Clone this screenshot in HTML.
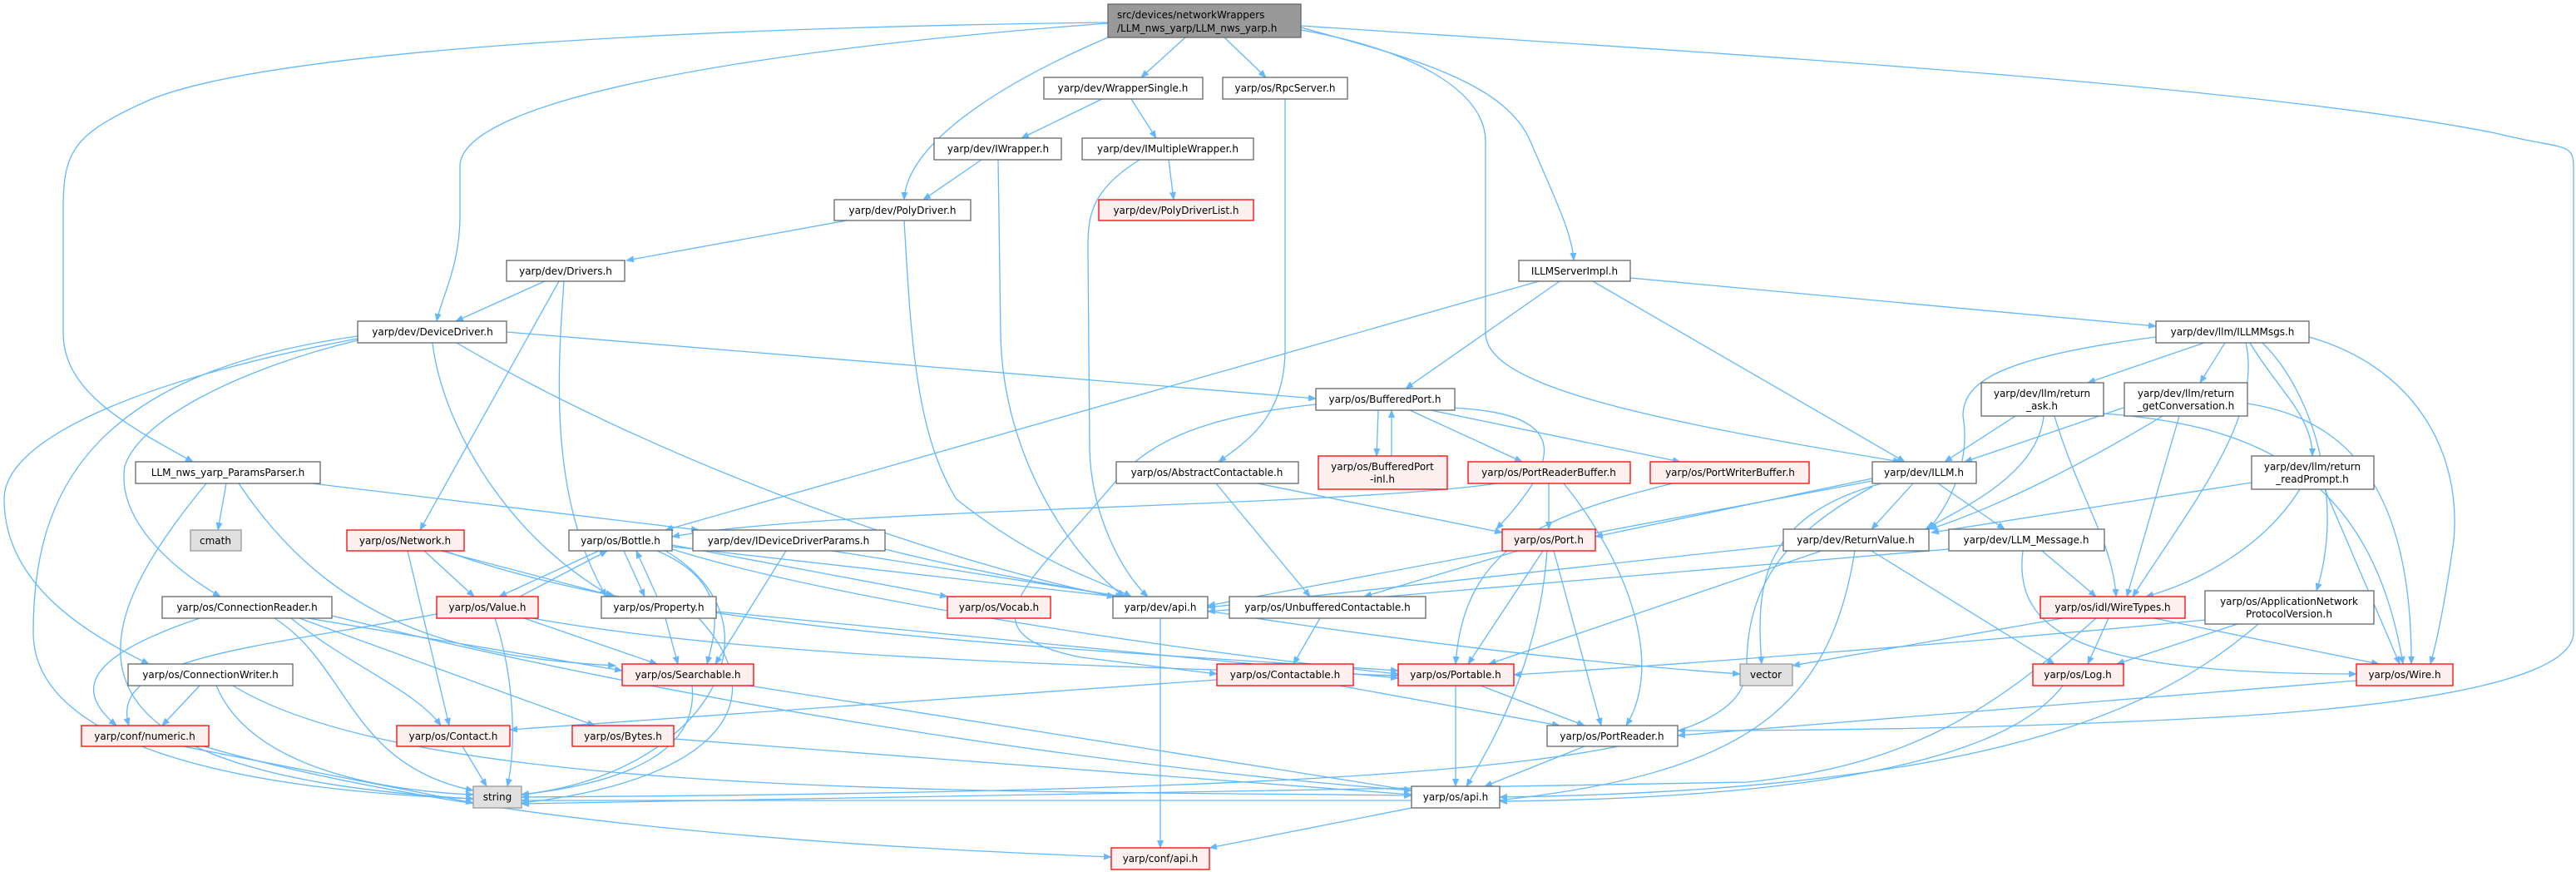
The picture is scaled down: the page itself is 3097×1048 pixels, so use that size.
<!DOCTYPE html>
<html><head><meta charset="utf-8"><style>
html,body{margin:0;padding:0;background:#fff;}
svg{display:block;}
text{font-family:"DejaVu Sans","Liberation Sans",sans-serif;font-size:12px;fill:#000;}
.e{fill:none;stroke:#63b8ff;stroke-width:1.3;marker-end:url(#a);}
.n{fill:#fff;stroke:#666;stroke-width:1.3;}
.r{fill:#fff0f0;stroke:#ff0000;stroke-width:1.3;}
.g{fill:#e0e0e0;stroke:#999;stroke-width:1.3;}
</style></head><body>
<svg width="3097" height="1048" viewBox="0 0 3097 1048" xmlns="http://www.w3.org/2000/svg">
<defs><marker id="a" markerWidth="10" markerHeight="8" refX="9" refY="4" orient="auto" markerUnits="userSpaceOnUse"><path d="M0,0 L10,4 L0,8 z" fill="#63b8ff"/></marker></defs>
<g>
<path class="e" d="M1425,45 L1372,93"/>
<path class="e" d="M1472,45 L1522,93"/>
<path class="e" d="M1332,45 C1180,110 1090,180 1087,240"/>
<path class="e" d="M1332,28 C900,60 553,120 553,200 L553,260 C553,320 530,360 525,386"/>
<path class="e" d="M1332,27 C700,35 300,70 180,120 C90,160 76,180 76,250 L76,400 C76,470 150,510 232,555"/>
<path class="e" d="M1564,33 C1700,70 1810,100 1840,170 C1870,240 1890,280 1892,313"/>
<path class="e" d="M1564,36 C1700,60 1786,110 1786,170 L1786,400 C1786,460 1950,500 2285,555"/>
<path class="e" d="M1564,31 C2000,60 2700,100 3000,160 C3080,180 3094,170 3094,200 L3094,760 C3094,800 3000,840 2700,860 C2400,878 2100,878 2017,878"/>
<path class="e" d="M1325,119 L1228,166"/>
<path class="e" d="M1360,119 L1390,166"/>
<path class="e" d="M1180,192 L1110,240"/>
<path class="e" d="M1200,192 L1203,400 C1205,560 1300,680 1352,717"/>
<path class="e" d="M1405,192 L1411,240"/>
<path class="e" d="M1370,192 C1310,230 1308,260 1308,300 L1310,540 C1312,620 1350,690 1380,717"/>
<path class="e" d="M1018,265 L753,313"/>
<path class="e" d="M1087,265 C1095,400 1100,520 1150,600 C1250,680 1330,700 1360,717"/>
<path class="e" d="M1545,119 L1545,420 C1545,500 1500,530 1465,555"/>
<path class="e" d="M655,338 L548,386"/>
<path class="e" d="M672,338 L505,637"/>
<path class="e" d="M678,338 C670,450 660,600 729,717"/>
<path class="e" d="M609,399 L1582,479"/>
<path class="e" d="M430,409 C300,440 170,500 150,560 C140,620 200,680 265,717"/>
<path class="e" d="M430,407 C200,450 5,520 5,600 C5,700 100,760 179,798"/>
<path class="e" d="M520,412 C530,500 600,640 736,717"/>
<path class="e" d="M549,412 C800,560 1150,680 1340,717"/>
<path class="e" d="M430,404 C100,450 40,600 40,760 C40,900 300,950 569,960"/>
<path class="e" d="M1960,334 L2592,392"/>
<path class="e" d="M1875,338 L1690,467"/>
<path class="e" d="M1915,338 L2290,555"/>
<path class="e" d="M1850,338 L800,637"/>
<path class="e" d="M1657,493 L1655,548"/>
<path class="e" d="M1673,548 L1673,493"/>
<path class="e" d="M1695,493 L1830,555"/>
<path class="e" d="M1720,493 L2020,555"/>
<path class="e" d="M1740,490 C1900,495 1870,560 1799,636"/>
<path class="e" d="M1582,486 C1450,500 1380,530 1340,580 C1240,700 1150,760 1300,790 L1463,810"/>
<path class="e" d="M1462,581 L1575,717"/>
<path class="e" d="M1512,581 L1806,640"/>
<path class="e" d="M1862,581 L1862,636"/>
<path class="e" d="M1880,581 C1960,680 2000,800 1955,872"/>
<path class="e" d="M1800,581 C1600,610 1000,610 808,645"/>
<path class="e" d="M2011,581 C1850,620 1760,660 1750,798"/>
<path class="e" d="M1825,662 L1640,717"/>
<path class="e" d="M1855,662 L1765,798"/>
<path class="e" d="M1868,662 L1925,872"/>
<path class="e" d="M1860,662 C1850,800 1790,900 1763,945"/>
<path class="e" d="M1587,743 L1555,798"/>
<path class="e" d="M1610,824 L1875,872"/>
<path class="e" d="M1463,817 L613,877"/>
<path class="e" d="M1750,824 L1750,945"/>
<path class="e" d="M1780,824 L1905,872"/>
<path class="e" d="M1905,897 L1785,945"/>
<path class="e" d="M1697,971 L1454,1019"/>
<path class="e" d="M1395,743 L1395,1019"/>
<path class="e" d="M2650,412 L2510,460"/>
<path class="e" d="M2675,412 L2645,460"/>
<path class="e" d="M2705,412 C2740,470 2780,500 2780,548"/>
<path class="e" d="M2592,405 C2400,430 2360,460 2360,500 C2370,560 2340,610 2319,636"/>
<path class="e" d="M2700,412 C2720,500 2640,600 2564,717"/>
<path class="e" d="M2720,412 C2780,470 2820,600 2785,710"/>
<path class="e" d="M2776,405 C2900,440 2960,540 2950,650 C2940,720 2930,770 2922,798"/>
<path class="e" d="M2423,500 L2338,555"/>
<path class="e" d="M2553,490 L2362,555"/>
<path class="e" d="M2457,500 C2450,570 2360,610 2315,636"/>
<path class="e" d="M2470,500 C2500,600 2540,650 2544,717"/>
<path class="e" d="M2529,497 C2700,510 2850,560 2889,798"/>
<path class="e" d="M2600,500 C2500,560 2400,610 2320,636"/>
<path class="e" d="M2620,500 L2557,717"/>
<path class="e" d="M2702,485 C2800,500 2900,560 2899,798"/>
<path class="e" d="M2707,580 L2322,640"/>
<path class="e" d="M2765,588 C2720,660 2640,700 2580,717"/>
<path class="e" d="M2795,588 L2885,798"/>
<path class="e" d="M2300,581 L2250,636"/>
<path class="e" d="M2330,581 L2410,636"/>
<path class="e" d="M2262,581 C2120,620 2110,700 2118,798"/>
<path class="e" d="M2251,585 C2150,640 2100,700 2100,800 C2100,900 1900,950 627,958"/>
<path class="e" d="M2251,578 L1452,728"/>
<path class="e" d="M2251,575 L1918,645"/>
<path class="e" d="M2144,655 L1452,730"/>
<path class="e" d="M2250,662 L2470,798"/>
<path class="e" d="M2230,662 C2200,850 2100,930 1800,962 L627,962"/>
<path class="e" d="M2190,662 L1790,798"/>
<path class="e" d="M2455,662 L2520,717"/>
<path class="e" d="M2432,662 C2420,760 2500,810 2833,810"/>
<path class="e" d="M2343,660 L1452,735"/>
<path class="e" d="M2480,743 L2155,800"/>
<path class="e" d="M2535,743 L2510,798"/>
<path class="e" d="M2590,743 L2860,798"/>
<path class="e" d="M2520,743 C2400,850 2300,920 2100,940 L627,966"/>
<path class="e" d="M2651,745 C2400,770 2000,800 1820,811"/>
<path class="e" d="M2690,750 L2545,798"/>
<path class="e" d="M2715,750 C2600,850 2400,950 1803,958"/>
<path class="e" d="M2480,824 C2400,930 2100,960 1803,963"/>
<path class="e" d="M2833,818 L2017,884"/>
<path class="e" d="M510,662 L570,717"/>
<path class="e" d="M530,662 L740,717"/>
<path class="e" d="M490,662 L540,872"/>
<path class="e" d="M535,662 C800,760 1300,780 1681,806"/>
<path class="e" d="M720,662 L600,717"/>
<path class="e" d="M625,717 L730,662"/>
<path class="e" d="M750,662 L775,717"/>
<path class="e" d="M790,717 L765,662"/>
<path class="e" d="M790,662 C880,700 860,760 850,798"/>
<path class="e" d="M800,662 C950,750 850,930 627,955"/>
<path class="e" d="M808,655 L1139,717"/>
<path class="e" d="M808,660 C1000,720 1400,780 1681,810"/>
<path class="e" d="M808,657 L1340,717"/>
<path class="e" d="M630,743 L790,798"/>
<path class="e" d="M595,743 C620,820 620,900 610,945"/>
<path class="e" d="M525,738 C300,780 130,790 155,872"/>
<path class="e" d="M640,743 C900,790 1300,800 1681,812"/>
<path class="e" d="M800,743 L815,798"/>
<path class="e" d="M840,743 C940,850 850,940 627,965"/>
<path class="e" d="M861,735 L1681,815"/>
<path class="e" d="M945,662 L860,798"/>
<path class="e" d="M1000,662 L1350,717"/>
<path class="e" d="M1064,660 C1300,720 1800,790 2092,810"/>
<path class="e" d="M370,743 L748,806"/>
<path class="e" d="M330,743 C420,800 420,920 569,950"/>
<path class="e" d="M350,743 C420,800 500,830 530,872"/>
<path class="e" d="M360,743 L715,872"/>
<path class="e" d="M240,743 C100,790 90,830 140,872"/>
<path class="e" d="M399,740 C800,840 1300,920 1697,950"/>
<path class="e" d="M240,824 L195,872"/>
<path class="e" d="M260,824 C300,920 450,950 569,955"/>
<path class="e" d="M280,824 C500,960 1200,950 1697,956"/>
<path class="e" d="M832,824 C840,900 760,940 627,955"/>
<path class="e" d="M900,824 L1697,950"/>
<path class="e" d="M220,897 L569,965"/>
<path class="e" d="M245,897 C600,1000 1100,1020 1336,1030"/>
<path class="e" d="M556,897 L585,945"/>
<path class="e" d="M810,888 L1697,955"/>
<path class="e" d="M272,581 L262,637"/>
<path class="e" d="M248,581 C100,760 40,930 569,960"/>
<path class="e" d="M287,581 C400,750 550,790 740,800"/>
<path class="e" d="M375,581 L840,637"/>
</g>
<g>
<rect x="1332" y="5" width="232" height="40" fill="#999" stroke="#666" stroke-width="1.3"/>
<text x="1343" y="22">src/devices/networkWrappers</text>
<text x="1343" y="38">/LLM_nws_yarp/LLM_nws_yarp.h</text>

<rect class="n" x="1255" y="93" width="191" height="26"/><text x="1350" y="110" text-anchor="middle">yarp/dev/WrapperSingle.h</text>
<rect class="n" x="1470" y="93" width="150" height="26"/><text x="1545" y="110" text-anchor="middle">yarp/os/RpcServer.h</text>
<rect class="n" x="1123" y="166" width="153" height="26"/><text x="1200" y="183" text-anchor="middle">yarp/dev/IWrapper.h</text>
<rect class="n" x="1301" y="166" width="206" height="26"/><text x="1404" y="183" text-anchor="middle">yarp/dev/IMultipleWrapper.h</text>
<rect class="n" x="1003" y="240" width="164" height="25"/><text x="1085" y="257" text-anchor="middle">yarp/dev/PolyDriver.h</text>
<rect class="r" x="1321" y="240" width="186" height="25"/><text x="1414" y="257" text-anchor="middle">yarp/dev/PolyDriverList.h</text>
<rect class="n" x="609" y="313" width="142" height="25"/><text x="680" y="330" text-anchor="middle">yarp/dev/Drivers.h</text>
<rect class="n" x="1826" y="313" width="134" height="25"/><text x="1893" y="330" text-anchor="middle">ILLMServerImpl.h</text>
<rect class="n" x="2592" y="386" width="184" height="26"/><text x="2684" y="403" text-anchor="middle">yarp/dev/llm/ILLMMsgs.h</text>
<rect class="n" x="430" y="386" width="179" height="26"/><text x="520" y="403" text-anchor="middle">yarp/dev/DeviceDriver.h</text>
<rect class="n" x="1582" y="467" width="167" height="26"/><text x="1665" y="484" text-anchor="middle">yarp/os/BufferedPort.h</text>
<rect class="n" x="2382" y="460" width="147" height="40"/><text x="2455" y="477" text-anchor="middle">yarp/dev/llm/return</text><text x="2455" y="492" text-anchor="middle">_ask.h</text>
<rect class="n" x="2554" y="460" width="148" height="40"/><text x="2628" y="477" text-anchor="middle">yarp/dev/llm/return</text><text x="2628" y="492" text-anchor="middle">_getConversation.h</text>
<rect class="n" x="163" y="555" width="222" height="26"/><text x="274" y="572" text-anchor="middle">LLM_nws_yarp_ParamsParser.h</text>
<rect class="n" x="1342" y="555" width="219" height="26"/><text x="1451" y="572" text-anchor="middle">yarp/os/AbstractContactable.h</text>
<rect class="r" x="1585" y="548" width="155" height="40"/><text x="1662" y="565" text-anchor="middle">yarp/os/BufferedPort</text><text x="1662" y="580" text-anchor="middle">-inl.h</text>
<rect class="r" x="1765" y="555" width="195" height="26"/><text x="1862" y="572" text-anchor="middle">yarp/os/PortReaderBuffer.h</text>
<rect class="r" x="1984" y="555" width="191" height="26"/><text x="2080" y="572" text-anchor="middle">yarp/os/PortWriterBuffer.h</text>
<rect class="n" x="2251" y="555" width="125" height="26"/><text x="2313" y="572" text-anchor="middle">yarp/dev/ILLM.h</text>
<rect class="n" x="2707" y="548" width="147" height="40"/><text x="2780" y="565" text-anchor="middle">yarp/dev/llm/return</text><text x="2780" y="580" text-anchor="middle">_readPrompt.h</text>
<rect class="g" x="229" y="637" width="61" height="25"/><text x="259" y="654" text-anchor="middle">cmath</text>
<rect class="r" x="417" y="637" width="141" height="25"/><text x="487" y="654" text-anchor="middle">yarp/os/Network.h</text>
<rect class="n" x="684" y="637" width="124" height="25"/><text x="746" y="654" text-anchor="middle">yarp/os/Bottle.h</text>
<rect class="n" x="833" y="637" width="231" height="25"/><text x="948" y="654" text-anchor="middle">yarp/dev/IDeviceDriverParams.h</text>
<rect class="r" x="1806" y="636" width="112" height="26"/><text x="1862" y="653" text-anchor="middle">yarp/os/Port.h</text>
<rect class="n" x="2144" y="636" width="175" height="26"/><text x="2231" y="653" text-anchor="middle">yarp/dev/ReturnValue.h</text>
<rect class="n" x="2343" y="636" width="187" height="26"/><text x="2436" y="653" text-anchor="middle">yarp/dev/LLM_Message.h</text>
<rect class="n" x="195" y="717" width="204" height="26"/><text x="297" y="734" text-anchor="middle">yarp/os/ConnectionReader.h</text>
<rect class="r" x="525" y="717" width="122" height="26"/><text x="586" y="734" text-anchor="middle">yarp/os/Value.h</text>
<rect class="n" x="723" y="717" width="138" height="26"/><text x="792" y="734" text-anchor="middle">yarp/os/Property.h</text>
<rect class="r" x="1139" y="717" width="124" height="26"/><text x="1201" y="734" text-anchor="middle">yarp/os/Vocab.h</text>
<rect class="n" x="1338" y="717" width="114" height="26"/><text x="1395" y="734" text-anchor="middle">yarp/dev/api.h</text>
<rect class="n" x="1478" y="717" width="236" height="26"/><text x="1596" y="734" text-anchor="middle">yarp/os/UnbufferedContactable.h</text>
<rect class="r" x="2453" y="717" width="174" height="26"/><text x="2540" y="734" text-anchor="middle">yarp/os/idl/WireTypes.h</text>
<rect class="n" x="2651" y="710" width="203" height="40"/><text x="2752" y="727" text-anchor="middle">yarp/os/ApplicationNetwork</text><text x="2752" y="742" text-anchor="middle">ProtocolVersion.h</text>
<rect class="n" x="154" y="798" width="198" height="26"/><text x="253" y="815" text-anchor="middle">yarp/os/ConnectionWriter.h</text>
<rect class="r" x="748" y="798" width="158" height="26"/><text x="827" y="815" text-anchor="middle">yarp/os/Searchable.h</text>
<rect class="r" x="1463" y="798" width="164" height="26"/><text x="1545" y="815" text-anchor="middle">yarp/os/Contactable.h</text>
<rect class="r" x="1681" y="798" width="139" height="26"/><text x="1750" y="815" text-anchor="middle">yarp/os/Portable.h</text>
<rect class="g" x="2092" y="798" width="63" height="26"/><text x="2123" y="815" text-anchor="middle">vector</text>
<rect class="r" x="2444" y="798" width="109" height="26"/><text x="2498" y="815" text-anchor="middle">yarp/os/Log.h</text>
<rect class="r" x="2833" y="798" width="116" height="26"/><text x="2891" y="815" text-anchor="middle">yarp/os/Wire.h</text>
<rect class="r" x="98" y="872" width="153" height="25"/><text x="174" y="889" text-anchor="middle">yarp/conf/numeric.h</text>
<rect class="r" x="477" y="872" width="136" height="25"/><text x="545" y="889" text-anchor="middle">yarp/os/Contact.h</text>
<rect class="r" x="688" y="872" width="122" height="25"/><text x="749" y="889" text-anchor="middle">yarp/os/Bytes.h</text>
<rect class="n" x="1860" y="872" width="157" height="25"/><text x="1938" y="889" text-anchor="middle">yarp/os/PortReader.h</text>
<rect class="g" x="569" y="945" width="58" height="26"/><text x="598" y="962" text-anchor="middle">string</text>
<rect class="n" x="1697" y="945" width="106" height="26"/><text x="1750" y="962" text-anchor="middle">yarp/os/api.h</text>
<rect class="r" x="1336" y="1019" width="118" height="26"/><text x="1395" y="1036" text-anchor="middle">yarp/conf/api.h</text>
</g>
</svg>
</body></html>
